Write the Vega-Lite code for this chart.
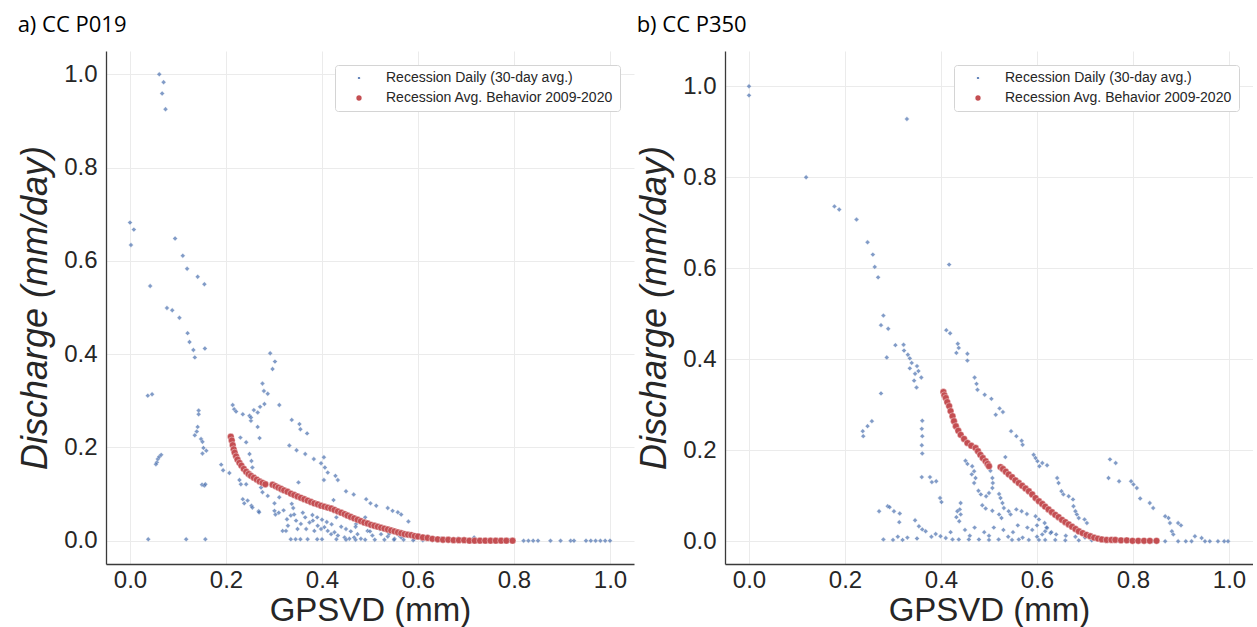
{
"$schema": "https://vega.github.io/schema/vega-lite/v6.json",
"padding": {"left": 17, "top": 14, "right": 0, "bottom": 0},
"autosize": {"type": "pad"},
"spacing": 2,
"datasets": {
"a": [
{"s":"D","x":0.061,"y":1.0},{"s":"D","x":0.070,"y":0.983},{"s":"D","x":0.067,"y":0.959},{"s":"D","x":0.074,"y":0.925},
{"s":"D","x":0.0,"y":0.682},{"s":"D","x":0.008,"y":0.667},{"s":"D","x":0.002,"y":0.634},
{"s":"D","x":0.094,"y":0.648},{"s":"D","x":0.110,"y":0.611},{"s":"D","x":0.119,"y":0.583},{"s":"D","x":0.141,"y":0.566},{"s":"D","x":0.155,"y":0.550},
{"s":"D","x":0.042,"y":0.546},
{"s":"D","x":0.077,"y":0.499},{"s":"D","x":0.088,"y":0.494},{"s":"D","x":0.103,"y":0.478},
{"s":"D","x":0.120,"y":0.445},{"s":"D","x":0.124,"y":0.426},{"s":"D","x":0.132,"y":0.409},{"s":"D","x":0.135,"y":0.393},{"s":"D","x":0.156,"y":0.412},
{"s":"D","x":0.037,"y":0.311},{"s":"D","x":0.046,"y":0.314},
{"s":"D","x":0.143,"y":0.279},{"s":"D","x":0.143,"y":0.271},{"s":"D","x":0.141,"y":0.244},{"s":"D","x":0.139,"y":0.234},{"s":"D","x":0.135,"y":0.226},{"s":"D","x":0.148,"y":0.218},{"s":"D","x":0.151,"y":0.212},{"s":"D","x":0.153,"y":0.199},{"s":"D","x":0.151,"y":0.187},{"s":"D","x":0.159,"y":0.193},
{"s":"D","x":0.056,"y":0.168},{"s":"D","x":0.058,"y":0.175},{"s":"D","x":0.061,"y":0.180},{"s":"D","x":0.065,"y":0.184},{"s":"D","x":0.054,"y":0.164},
{"s":"D","x":0.190,"y":0.163},{"s":"D","x":0.194,"y":0.151},
{"s":"D","x":0.150,"y":0.120},{"s":"D","x":0.155,"y":0.118},{"s":"D","x":0.157,"y":0.121},
{"s":"D","x":0.038,"y":0.003},{"s":"D","x":0.117,"y":0.003},{"s":"D","x":0.157,"y":0.003},
{"s":"D","x":0.292,"y":0.402},{"s":"D","x":0.302,"y":0.384},{"s":"D","x":0.297,"y":0.368},{"s":"D","x":0.276,"y":0.337},{"s":"D","x":0.279,"y":0.321},{"s":"D","x":0.287,"y":0.315},{"s":"D","x":0.311,"y":0.291},{"s":"D","x":0.280,"y":0.293},{"s":"D","x":0.271,"y":0.287},{"s":"D","x":0.258,"y":0.280},{"s":"D","x":0.266,"y":0.275},{"s":"D","x":0.249,"y":0.268},{"s":"D","x":0.252,"y":0.257},{"s":"D","x":0.266,"y":0.244},{"s":"D","x":0.270,"y":0.220},
{"s":"D","x":0.214,"y":0.291},{"s":"D","x":0.217,"y":0.282},{"s":"D","x":0.221,"y":0.277},{"s":"D","x":0.235,"y":0.271},{"s":"D","x":0.252,"y":0.264},
{"s":"D","x":0.230,"y":0.221},{"s":"D","x":0.242,"y":0.211},
{"s":"D","x":0.207,"y":0.145},{"s":"D","x":0.228,"y":0.130},{"s":"D","x":0.231,"y":0.121},{"s":"D","x":0.242,"y":0.121},
{"s":"D","x":0.235,"y":0.089},{"s":"D","x":0.238,"y":0.080},{"s":"D","x":0.245,"y":0.086},{"s":"D","x":0.253,"y":0.075},{"s":"D","x":0.255,"y":0.071},{"s":"D","x":0.268,"y":0.063},{"s":"D","x":0.269,"y":0.061},
{"s":"D","x":0.249,"y":0.186},{"s":"D","x":0.253,"y":0.171},{"s":"D","x":0.255,"y":0.157},{"s":"D","x":0.252,"y":0.143},
{"s":"D","x":0.273,"y":0.114},{"s":"D","x":0.276,"y":0.104},{"s":"D","x":0.287,"y":0.096},{"s":"D","x":0.301,"y":0.080},{"s":"D","x":0.301,"y":0.064},{"s":"D","x":0.303,"y":0.056},{"s":"D","x":0.311,"y":0.093},{"s":"D","x":0.315,"y":0.107},
{"s":"D","x":0.332,"y":0.204},{"s":"D","x":0.347,"y":0.194},{"s":"D","x":0.365,"y":0.186},
{"s":"D","x":0.337,"y":0.259},{"s":"D","x":0.353,"y":0.250},{"s":"D","x":0.355,"y":0.239},{"s":"D","x":0.369,"y":0.230},
{"s":"D","x":0.383,"y":0.175},{"s":"D","x":0.398,"y":0.166},{"s":"D","x":0.404,"y":0.179},{"s":"D","x":0.406,"y":0.157},{"s":"D","x":0.412,"y":0.146},{"s":"D","x":0.404,"y":0.130},
{"s":"D","x":0.428,"y":0.139},{"s":"D","x":0.433,"y":0.130},{"s":"D","x":0.450,"y":0.106},{"s":"D","x":0.466,"y":0.099},{"s":"D","x":0.424,"y":0.087},{"s":"D","x":0.351,"y":0.125},{"s":"D","x":0.337,"y":0.079},
{"s":"D","x":0.492,"y":0.089},{"s":"D","x":0.501,"y":0.080},{"s":"D","x":0.513,"y":0.075},{"s":"D","x":0.537,"y":0.070},{"s":"D","x":0.547,"y":0.064},{"s":"D","x":0.558,"y":0.061},{"s":"D","x":0.565,"y":0.056},{"s":"D","x":0.580,"y":0.041},
{"s":"D","x":0.490,"y":0.050},{"s":"D","x":0.471,"y":0.036},{"s":"D","x":0.467,"y":0.050},
{"s":"D","x":0.318,"y":0.021},{"s":"D","x":0.325,"y":0.021},{"s":"D","x":0.329,"y":0.032},{"s":"D","x":0.327,"y":0.046},{"s":"D","x":0.335,"y":0.054},{"s":"D","x":0.342,"y":0.056},{"s":"D","x":0.346,"y":0.043},{"s":"D","x":0.349,"y":0.025},{"s":"D","x":0.356,"y":0.036},{"s":"D","x":0.365,"y":0.050},{"s":"D","x":0.367,"y":0.025},{"s":"D","x":0.374,"y":0.039},{"s":"D","x":0.381,"y":0.043},{"s":"D","x":0.384,"y":0.021},{"s":"D","x":0.391,"y":0.032},{"s":"D","x":0.398,"y":0.025},{"s":"D","x":0.405,"y":0.029},{"s":"D","x":0.412,"y":0.021},{"s":"D","x":0.419,"y":0.014},{"s":"D","x":0.426,"y":0.018},{"s":"D","x":0.433,"y":0.011},{"s":"D","x":0.447,"y":0.007},{"s":"D","x":0.457,"y":0.004},{"s":"D","x":0.467,"y":0.007},{"s":"D","x":0.474,"y":0.014},{"s":"D","x":0.481,"y":0.004},{"s":"D","x":0.495,"y":0.021},{"s":"D","x":0.505,"y":0.011},{"s":"D","x":0.523,"y":0.014},{"s":"D","x":0.537,"y":0.009},{"s":"D","x":0.551,"y":0.004},{"s":"D","x":0.565,"y":0.007},{"s":"D","x":0.592,"y":0.004},{"s":"D","x":0.620,"y":0.009},{"s":"D","x":0.648,"y":0.004},{"s":"D","x":0.683,"y":0.004},{"s":"D","x":0.717,"y":0.007},
{"s":"D","x":0.31,"y":0.06},{"s":"D","x":0.32,"y":0.065},{"s":"D","x":0.34,"y":0.07},{"s":"D","x":0.36,"y":0.06},{"s":"D","x":0.38,"y":0.055},{"s":"D","x":0.39,"y":0.05},{"s":"D","x":0.40,"y":0.045},{"s":"D","x":0.41,"y":0.04},{"s":"D","x":0.42,"y":0.035},{"s":"D","x":0.44,"y":0.03},{"s":"D","x":0.45,"y":0.025},{"s":"D","x":0.46,"y":0.02},{"s":"D","x":0.43,"y":0.05},{"s":"D","x":0.47,"y":0.03},{"s":"D","x":0.50,"y":0.02},{"s":"D","x":0.52,"y":0.025},{"s":"D","x":0.54,"y":0.015},{"s":"D","x":0.56,"y":0.012},{"s":"D","x":0.58,"y":0.010},{"s":"D","x":0.60,"y":0.008},
{"s":"D","x":0.335,"y":0.003},{"s":"D","x":0.345,"y":0.003},{"s":"D","x":0.355,"y":0.003},{"s":"D","x":0.37,"y":0.003},{"s":"D","x":0.39,"y":0.003},{"s":"D","x":0.40,"y":0.003},{"s":"D","x":0.43,"y":0.003},{"s":"D","x":0.45,"y":0.002},{"s":"D","x":0.47,"y":0.002},{"s":"D","x":0.49,"y":0.002},{"s":"D","x":0.51,"y":0.002},{"s":"D","x":0.53,"y":0.002},{"s":"D","x":0.55,"y":0.002},{"s":"D","x":0.57,"y":0.002},{"s":"D","x":0.59,"y":0.001},{"s":"D","x":0.61,"y":0.001},{"s":"D","x":0.63,"y":0.001},{"s":"D","x":0.66,"y":0.001},{"s":"D","x":0.70,"y":0.001},{"s":"D","x":0.73,"y":0.001},{"s":"D","x":0.76,"y":0.001},{"s":"D","x":0.79,"y":0.001},{"s":"D","x":0.82,"y":0.0},{"s":"D","x":0.83,"y":0.0},{"s":"D","x":0.84,"y":0.0},{"s":"D","x":0.85,"y":0.0},{"s":"D","x":0.876,"y":0.0},{"s":"D","x":0.897,"y":0.0},{"s":"D","x":0.918,"y":0.0},{"s":"D","x":0.925,"y":0.0},{"s":"D","x":0.95,"y":0.0},{"s":"D","x":0.96,"y":0.0},{"s":"D","x":0.97,"y":0.0},{"s":"D","x":0.98,"y":0.0},{"s":"D","x":0.99,"y":0.0},{"s":"D","x":1.0,"y":0.0},
{"s":"A","x":0.210,"y":0.223},{"s":"A","x":0.212,"y":0.215},{"s":"A","x":0.214,"y":0.205},{"s":"A","x":0.216,"y":0.196},{"s":"A","x":0.218,"y":0.189},{"s":"A","x":0.221,"y":0.181},{"s":"A","x":0.224,"y":0.174},{"s":"A","x":0.228,"y":0.167},{"s":"A","x":0.232,"y":0.161},{"s":"A","x":0.237,"y":0.154},{"s":"A","x":0.242,"y":0.148},{"s":"A","x":0.247,"y":0.143},{"s":"A","x":0.252,"y":0.139},{"s":"A","x":0.258,"y":0.135},{"s":"A","x":0.264,"y":0.131},{"s":"A","x":0.270,"y":0.127},{"s":"A","x":0.276,"y":0.124},{"s":"A","x":0.282,"y":0.121},
{"s":"A","x":0.297,"y":0.120},{"s":"A","x":0.303,"y":0.117},{"s":"A","x":0.309,"y":0.114},{"s":"A","x":0.315,"y":0.111},{"s":"A","x":0.321,"y":0.108},{"s":"A","x":0.328,"y":0.105},{"s":"A","x":0.335,"y":0.101},{"s":"A","x":0.342,"y":0.098},{"s":"A","x":0.349,"y":0.095},{"s":"A","x":0.356,"y":0.092},{"s":"A","x":0.363,"y":0.089},{"s":"A","x":0.370,"y":0.086},{"s":"A","x":0.377,"y":0.083},{"s":"A","x":0.384,"y":0.080},{"s":"A","x":0.391,"y":0.078},{"s":"A","x":0.398,"y":0.075},{"s":"A","x":0.405,"y":0.073},{"s":"A","x":0.412,"y":0.071},{"s":"A","x":0.419,"y":0.069},{"s":"A","x":0.426,"y":0.066},{"s":"A","x":0.433,"y":0.063},{"s":"A","x":0.440,"y":0.060},{"s":"A","x":0.447,"y":0.057},{"s":"A","x":0.453,"y":0.054},{"s":"A","x":0.460,"y":0.051},{"s":"A","x":0.467,"y":0.048},{"s":"A","x":0.474,"y":0.045},{"s":"A","x":0.481,"y":0.042},{"s":"A","x":0.488,"y":0.039},{"s":"A","x":0.495,"y":0.037},{"s":"A","x":0.502,"y":0.034},{"s":"A","x":0.509,"y":0.032},{"s":"A","x":0.516,"y":0.030},{"s":"A","x":0.523,"y":0.028},{"s":"A","x":0.530,"y":0.026},{"s":"A","x":0.537,"y":0.024},{"s":"A","x":0.544,"y":0.022},{"s":"A","x":0.551,"y":0.020},{"s":"A","x":0.558,"y":0.018},{"s":"A","x":0.565,"y":0.016},{"s":"A","x":0.572,"y":0.014},{"s":"A","x":0.579,"y":0.013},{"s":"A","x":0.586,"y":0.012},{"s":"A","x":0.593,"y":0.010},{"s":"A","x":0.600,"y":0.009},{"s":"A","x":0.610,"y":0.007},{"s":"A","x":0.620,"y":0.006},{"s":"A","x":0.630,"y":0.004},{"s":"A","x":0.641,"y":0.003},{"s":"A","x":0.652,"y":0.002},{"s":"A","x":0.663,"y":0.002},{"s":"A","x":0.674,"y":0.001},{"s":"A","x":0.685,"y":0.001},{"s":"A","x":0.696,"y":0.001},{"s":"A","x":0.707,"y":0.0},{"s":"A","x":0.718,"y":0.0},{"s":"A","x":0.729,"y":0.0},{"s":"A","x":0.740,"y":0.0},{"s":"A","x":0.751,"y":0.0},{"s":"A","x":0.762,"y":0.0},{"s":"A","x":0.773,"y":0.0},{"s":"A","x":0.784,"y":0.0},{"s":"A","x":0.797,"y":0.0}
],
"b": [
{"s":"D","x":0.0,"y":1.0},{"s":"D","x":0.0,"y":0.98},{"s":"D","x":0.329,"y":0.928},{"s":"D","x":0.119,"y":0.80},{"s":"D","x":0.178,"y":0.736},{"s":"D","x":0.188,"y":0.729},{"s":"D","x":0.224,"y":0.707},{"s":"D","x":0.247,"y":0.657},{"s":"D","x":0.258,"y":0.630},{"s":"D","x":0.262,"y":0.603},{"s":"D","x":0.269,"y":0.580},{"s":"D","x":0.417,"y":0.608},
{"s":"D","x":0.280,"y":0.496},{"s":"D","x":0.275,"y":0.475},{"s":"D","x":0.290,"y":0.467},{"s":"D","x":0.411,"y":0.464},{"s":"D","x":0.419,"y":0.457},{"s":"D","x":0.305,"y":0.431},{"s":"D","x":0.322,"y":0.432},{"s":"D","x":0.323,"y":0.419},{"s":"D","x":0.435,"y":0.434},{"s":"D","x":0.437,"y":0.425},
{"s":"D","x":0.331,"y":0.410},{"s":"D","x":0.335,"y":0.402},{"s":"D","x":0.339,"y":0.392},{"s":"D","x":0.335,"y":0.380},{"s":"D","x":0.346,"y":0.368},{"s":"D","x":0.350,"y":0.385},{"s":"D","x":0.353,"y":0.374},{"s":"D","x":0.344,"y":0.353},{"s":"D","x":0.349,"y":0.338},{"s":"D","x":0.359,"y":0.360},{"s":"D","x":0.287,"y":0.404},{"s":"D","x":0.275,"y":0.325},
{"s":"D","x":0.361,"y":0.265},{"s":"D","x":0.360,"y":0.247},{"s":"D","x":0.361,"y":0.231},{"s":"D","x":0.360,"y":0.211},{"s":"D","x":0.361,"y":0.193},
{"s":"D","x":0.237,"y":0.242},{"s":"D","x":0.238,"y":0.231},{"s":"D","x":0.247,"y":0.253},{"s":"D","x":0.256,"y":0.264},
{"s":"D","x":0.360,"y":0.141},{"s":"D","x":0.377,"y":0.141},{"s":"D","x":0.381,"y":0.130},{"s":"D","x":0.390,"y":0.132},
{"s":"D","x":0.271,"y":0.066},{"s":"D","x":0.289,"y":0.077},{"s":"D","x":0.293,"y":0.075},{"s":"D","x":0.302,"y":0.066},{"s":"D","x":0.314,"y":0.061},{"s":"D","x":0.313,"y":0.042},
{"s":"D","x":0.346,"y":0.046},{"s":"D","x":0.354,"y":0.033},{"s":"D","x":0.361,"y":0.026},{"s":"D","x":0.368,"y":0.022},{"s":"D","x":0.389,"y":0.016},{"s":"D","x":0.399,"y":0.011},{"s":"D","x":0.410,"y":0.007},
{"s":"D","x":0.398,"y":0.095},{"s":"D","x":0.401,"y":0.086},
{"s":"D","x":0.432,"y":0.414},{"s":"D","x":0.455,"y":0.412},{"s":"D","x":0.455,"y":0.397},
{"s":"D","x":0.470,"y":0.360},{"s":"D","x":0.474,"y":0.346},{"s":"D","x":0.476,"y":0.333},{"s":"D","x":0.491,"y":0.322},{"s":"D","x":0.505,"y":0.313},
{"s":"D","x":0.522,"y":0.292},{"s":"D","x":0.529,"y":0.284},{"s":"D","x":0.514,"y":0.278},
{"s":"D","x":0.546,"y":0.242},{"s":"D","x":0.557,"y":0.231},{"s":"D","x":0.568,"y":0.221},{"s":"D","x":0.570,"y":0.212},
{"s":"D","x":0.534,"y":0.185},
{"s":"D","x":0.593,"y":0.190},{"s":"D","x":0.597,"y":0.183},{"s":"D","x":0.601,"y":0.176},{"s":"D","x":0.611,"y":0.172},{"s":"D","x":0.621,"y":0.167},{"s":"D","x":0.605,"y":0.165},
{"s":"D","x":0.451,"y":0.177},{"s":"D","x":0.455,"y":0.170},{"s":"D","x":0.465,"y":0.165},{"s":"D","x":0.469,"y":0.154},{"s":"D","x":0.464,"y":0.147},{"s":"D","x":0.472,"y":0.139},{"s":"D","x":0.469,"y":0.128},
{"s":"D","x":0.503,"y":0.155},{"s":"D","x":0.507,"y":0.139},{"s":"D","x":0.508,"y":0.128},{"s":"D","x":0.507,"y":0.117},{"s":"D","x":0.500,"y":0.106},{"s":"D","x":0.494,"y":0.099},
{"s":"D","x":0.478,"y":0.111},{"s":"D","x":0.483,"y":0.103},
{"s":"D","x":0.521,"y":0.104},{"s":"D","x":0.524,"y":0.095},{"s":"D","x":0.528,"y":0.084},{"s":"D","x":0.531,"y":0.073},
{"s":"D","x":0.486,"y":0.079},{"s":"D","x":0.493,"y":0.072},{"s":"D","x":0.507,"y":0.067},{"s":"D","x":0.521,"y":0.059},{"s":"D","x":0.526,"y":0.051},{"s":"D","x":0.541,"y":0.066},{"s":"D","x":0.545,"y":0.059},{"s":"D","x":0.557,"y":0.070},{"s":"D","x":0.568,"y":0.066},{"s":"D","x":0.579,"y":0.060},
{"s":"D","x":0.441,"y":0.084},{"s":"D","x":0.439,"y":0.070},{"s":"D","x":0.434,"y":0.066},{"s":"D","x":0.441,"y":0.059},{"s":"D","x":0.438,"y":0.044},{"s":"D","x":0.432,"y":0.053},
{"s":"D","x":0.597,"y":0.055},{"s":"D","x":0.604,"y":0.048},{"s":"D","x":0.616,"y":0.040},{"s":"D","x":0.621,"y":0.029},{"s":"D","x":0.617,"y":0.022},{"s":"D","x":0.628,"y":0.018},{"s":"D","x":0.611,"y":0.015},
{"s":"D","x":0.642,"y":0.139},{"s":"D","x":0.645,"y":0.128},{"s":"D","x":0.651,"y":0.110},{"s":"D","x":0.655,"y":0.103},{"s":"D","x":0.666,"y":0.099},{"s":"D","x":0.675,"y":0.092},{"s":"D","x":0.676,"y":0.077},{"s":"D","x":0.680,"y":0.066},{"s":"D","x":0.683,"y":0.059},{"s":"D","x":0.687,"y":0.051},{"s":"D","x":0.699,"y":0.048},{"s":"D","x":0.704,"y":0.040},
{"s":"D","x":0.752,"y":0.180},{"s":"D","x":0.764,"y":0.172},{"s":"D","x":0.749,"y":0.139},{"s":"D","x":0.771,"y":0.132},
{"s":"D","x":0.796,"y":0.132},{"s":"D","x":0.801,"y":0.125},{"s":"D","x":0.808,"y":0.117},{"s":"D","x":0.815,"y":0.094},
{"s":"D","x":0.835,"y":0.084},{"s":"D","x":0.842,"y":0.073},
{"s":"D","x":0.867,"y":0.055},{"s":"D","x":0.874,"y":0.051},{"s":"D","x":0.877,"y":0.040},{"s":"D","x":0.881,"y":0.022},{"s":"D","x":0.884,"y":0.015},{"s":"D","x":0.894,"y":0.040},{"s":"D","x":0.900,"y":0.035},
{"s":"D","x":0.929,"y":0.011},{"s":"D","x":0.943,"y":0.007},
{"s":"D","x":0.42,"y":0.02},{"s":"D","x":0.45,"y":0.025},{"s":"D","x":0.47,"y":0.03},{"s":"D","x":0.49,"y":0.02},{"s":"D","x":0.51,"y":0.03},{"s":"D","x":0.53,"y":0.025},{"s":"D","x":0.55,"y":0.02},{"s":"D","x":0.56,"y":0.035},{"s":"D","x":0.58,"y":0.03},{"s":"D","x":0.59,"y":0.025},{"s":"D","x":0.60,"y":0.035},{"s":"D","x":0.62,"y":0.03},{"s":"D","x":0.63,"y":0.02},{"s":"D","x":0.64,"y":0.015},{"s":"D","x":0.66,"y":0.012},{"s":"D","x":0.68,"y":0.01},{"s":"D","x":0.70,"y":0.008},{"s":"D","x":0.72,"y":0.006},{"s":"D","x":0.46,"y":0.012},{"s":"D","x":0.50,"y":0.012},{"s":"D","x":0.54,"y":0.01},{"s":"D","x":0.57,"y":0.008},{"s":"D","x":0.60,"y":0.01},{"s":"D","x":0.38,"y":0.01},{"s":"D","x":0.35,"y":0.006},{"s":"D","x":0.31,"y":0.01},{"s":"D","x":0.33,"y":0.008},
{"s":"D","x":0.280,"y":0.004},{"s":"D","x":0.30,"y":0.003},{"s":"D","x":0.32,"y":0.003},{"s":"D","x":0.424,"y":0.004},{"s":"D","x":0.437,"y":0.004},{"s":"D","x":0.458,"y":0.004},{"s":"D","x":0.479,"y":0.004},{"s":"D","x":0.500,"y":0.003},{"s":"D","x":0.520,"y":0.004},{"s":"D","x":0.548,"y":0.003},{"s":"D","x":0.562,"y":0.004},{"s":"D","x":0.583,"y":0.003},{"s":"D","x":0.604,"y":0.003},{"s":"D","x":0.617,"y":0.003},{"s":"D","x":0.638,"y":0.003},{"s":"D","x":0.659,"y":0.002},{"s":"D","x":0.687,"y":0.002},{"s":"D","x":0.714,"y":0.002},{"s":"D","x":0.742,"y":0.001},{"s":"D","x":0.770,"y":0.001},{"s":"D","x":0.797,"y":0.0},{"s":"D","x":0.825,"y":0.0},{"s":"D","x":0.84,"y":0.0},{"s":"D","x":0.867,"y":0.0},{"s":"D","x":0.894,"y":0.0},{"s":"D","x":0.91,"y":0.0},{"s":"D","x":0.922,"y":0.0},{"s":"D","x":0.950,"y":0.0},{"s":"D","x":0.96,"y":0.0},{"s":"D","x":0.977,"y":0.0},{"s":"D","x":0.99,"y":0.0},{"s":"D","x":0.998,"y":0.0},
{"s":"A","x":0.405,"y":0.328},{"s":"A","x":0.407,"y":0.321},{"s":"A","x":0.410,"y":0.315},{"s":"A","x":0.413,"y":0.306},{"s":"A","x":0.417,"y":0.297},{"s":"A","x":0.420,"y":0.286},{"s":"A","x":0.424,"y":0.275},{"s":"A","x":0.427,"y":0.264},{"s":"A","x":0.431,"y":0.253},{"s":"A","x":0.436,"y":0.243},{"s":"A","x":0.441,"y":0.234},{"s":"A","x":0.448,"y":0.225},{"s":"A","x":0.455,"y":0.216},{"s":"A","x":0.463,"y":0.210},{"s":"A","x":0.472,"y":0.205},{"s":"A","x":0.477,"y":0.198},{"s":"A","x":0.482,"y":0.190},{"s":"A","x":0.487,"y":0.183},{"s":"A","x":0.493,"y":0.176},{"s":"A","x":0.497,"y":0.170},{"s":"A","x":0.500,"y":0.165},
{"s":"A","x":0.524,"y":0.163},{"s":"A","x":0.529,"y":0.159},{"s":"A","x":0.535,"y":0.153},{"s":"A","x":0.541,"y":0.147},{"s":"A","x":0.548,"y":0.141},{"s":"A","x":0.555,"y":0.134},{"s":"A","x":0.562,"y":0.128},{"s":"A","x":0.569,"y":0.122},{"s":"A","x":0.576,"y":0.116},{"s":"A","x":0.583,"y":0.110},{"s":"A","x":0.590,"y":0.103},{"s":"A","x":0.597,"y":0.095},{"s":"A","x":0.604,"y":0.088},{"s":"A","x":0.611,"y":0.082},{"s":"A","x":0.617,"y":0.076},{"s":"A","x":0.624,"y":0.070},{"s":"A","x":0.631,"y":0.064},{"s":"A","x":0.638,"y":0.058},{"s":"A","x":0.645,"y":0.053},{"s":"A","x":0.652,"y":0.047},{"s":"A","x":0.659,"y":0.042},{"s":"A","x":0.666,"y":0.037},{"s":"A","x":0.673,"y":0.032},{"s":"A","x":0.680,"y":0.027},{"s":"A","x":0.687,"y":0.022},{"s":"A","x":0.695,"y":0.018},{"s":"A","x":0.703,"y":0.014},{"s":"A","x":0.711,"y":0.011},{"s":"A","x":0.719,"y":0.008},{"s":"A","x":0.727,"y":0.006},{"s":"A","x":0.735,"y":0.004},{"s":"A","x":0.745,"y":0.003},{"s":"A","x":0.755,"y":0.003},{"s":"A","x":0.763,"y":0.003},{"s":"A","x":0.775,"y":0.002},{"s":"A","x":0.787,"y":0.002},{"s":"A","x":0.799,"y":0.001},{"s":"A","x":0.811,"y":0.001},{"s":"A","x":0.823,"y":0.001},{"s":"A","x":0.835,"y":0.001},{"s":"A","x":0.849,"y":0.001}
]
},
"hconcat": [
{
"data": {"name": "a"},
"width": 528, "height": 513,
"title": {"text": "a) CC P019", "anchor": "start", "frame": "bounds", "offset": 14},
"mark": {"type": "point", "filled": true, "stroke": "white", "strokeWidth": 0.4},
"encoding": {
"x": {"field": "x", "type": "quantitative", "scale": {"domain": [-0.05, 1.05], "nice": false, "zero": false}, "axis": {"values": [0, 0.2, 0.4, 0.6, 0.8, 1.0], "format": ".1f", "title": "GPSVD (mm)"}},
"y": {"field": "y", "type": "quantitative", "scale": {"domain": [-0.05, 1.05], "nice": false, "zero": false}, "axis": {"values": [0, 0.2, 0.4, 0.6, 0.8, 1.0], "format": ".1f", "title": "Discharge (mm/day)"}},
"color": {"field": "s", "type": "nominal", "scale": {"domain": ["D", "A"], "range": ["#4C72B0", "#C44E52"]}, "legend": {"title": null, "labelExpr": "datum.label == 'D' ? 'Recession Daily (30-day avg.)' : 'Recession Avg. Behavior 2009-2020'"}},
"shape": {"field": "s", "type": "nominal", "scale": {"domain": ["D", "A"], "range": ["diamond", "circle"]}, "legend": {"title": null, "labelExpr": "datum.label == 'D' ? 'Recession Daily (30-day avg.)' : 'Recession Avg. Behavior 2009-2020'"}},
"size": {"field": "s", "type": "nominal", "scale": {"domain": ["D", "A"], "range": [24, 46]}, "legend": {"title": null, "labelExpr": "datum.label == 'D' ? 'Recession Daily (30-day avg.)' : 'Recession Avg. Behavior 2009-2020'"}},
"opacity": {"condition": {"test": "datum.s === 'D'", "value": 0.7}, "value": 1}
}
},
{
"data": {"name": "b"},
"width": 528, "height": 513,
"title": {"text": "b) CC P350", "anchor": "start", "frame": "bounds", "offset": 14},
"mark": {"type": "point", "filled": true, "stroke": "white", "strokeWidth": 0.4},
"encoding": {
"x": {"field": "x", "type": "quantitative", "scale": {"domain": [-0.05, 1.05], "nice": false, "zero": false}, "axis": {"values": [0, 0.2, 0.4, 0.6, 0.8, 1.0], "format": ".1f", "title": "GPSVD (mm)"}},
"y": {"field": "y", "type": "quantitative", "scale": {"domain": [-0.05, 1.0775], "nice": false, "zero": false}, "axis": {"values": [0, 0.2, 0.4, 0.6, 0.8, 1.0], "format": ".1f", "title": "Discharge (mm/day)"}},
"color": {"field": "s", "type": "nominal", "scale": {"domain": ["D", "A"], "range": ["#4C72B0", "#C44E52"]}, "legend": {"title": null, "labelExpr": "datum.label == 'D' ? 'Recession Daily (30-day avg.)' : 'Recession Avg. Behavior 2009-2020'"}},
"shape": {"field": "s", "type": "nominal", "scale": {"domain": ["D", "A"], "range": ["diamond", "circle"]}, "legend": {"title": null, "labelExpr": "datum.label == 'D' ? 'Recession Daily (30-day avg.)' : 'Recession Avg. Behavior 2009-2020'"}},
"size": {"field": "s", "type": "nominal", "scale": {"domain": ["D", "A"], "range": [24, 46]}, "legend": {"title": null, "labelExpr": "datum.label == 'D' ? 'Recession Daily (30-day avg.)' : 'Recession Avg. Behavior 2009-2020'"}},
"opacity": {"condition": {"test": "datum.s === 'D'", "value": 0.7}, "value": 1}
}
}
],
"resolve": {"scale": {"color": "independent", "shape": "independent", "size": "independent", "x": "independent", "y": "independent"}, "legend": {"color": "independent", "shape": "independent", "size": "independent"}},
"config": {
"view": {"stroke": null},
"title": {"font": "Open Sans", "fontSize": 22, "fontWeight": "normal", "color": "#000000"},
"axis": {"grid": true, "gridColor": "#EBEBEB", "gridWidth": 1, "domainColor": "#3a3a3a", "domainWidth": 1.3, "ticks": false, "labelFont": "Liberation Sans", "labelFontSize": 24, "labelColor": "#262626", "titleFont": "Liberation Sans", "titleFontSize": 34, "titleFontWeight": "normal", "titleColor": "#262626"},
"axisX": {"labelPadding": 4, "titlePadding": 2, "titleFontSize": 33},
"axisY": {"labelPadding": 9, "titleFontStyle": "italic", "titlePadding": 9, "titleFontSize": 36},
"legend": {"orient": "top-right", "offset": 14, "labelFont": "Liberation Sans", "labelFontSize": 14, "labelLimit": 0, "labelColor": "#262626", "strokeColor": "#d4d4d4", "fillColor": "white", "padding": 6, "cornerRadius": 3, "rowPadding": 6, "symbolOffset": 11, "labelOffset": 20}
}
}
